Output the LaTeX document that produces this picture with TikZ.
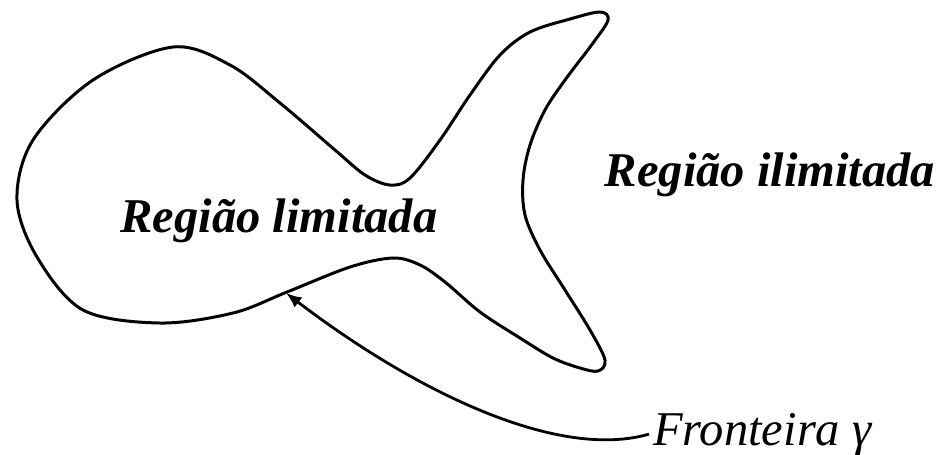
\documentclass[tikz,border=0pt]{standalone}
\usepackage{fontspec}
\setmainfont{Liberation Serif}
\usetikzlibrary{arrows.meta,positioning}

\begin{document}
\begin{tikzpicture}[x=0.01cm, y=-0.01cm, font=\fontsize{13.8}{16}\selectfont]
        \useasboundingbox (0,0) rectangle (943,454);
        \draw[line width=0.85pt, line join=round] plot[smooth cycle, tension=0.55] coordinates {
          (173,47) (230,65) (280,103) (335,150) (365,175) (390,185) (410,178)
          (440,140) (470,95) (500,55) (530,32) (570,19) (600,12) (608,20)
          (593,43) (565,80) (545,110) (530,145) (523,180) (525,215) (540,250)
          (565,290) (590,330) (605,360) (598,371) (580,368) (553,358) (520,338)
          (480,312) (445,282) (420,265) (393,258) (350,267) (287,292) (233,313)
          (160,323) (83,310) (37,257) (17,200) (33,140) (93,80)};
        \coordinate (tip) at (286,293);
        \node[font=\fontsize{13.8}{16}\selectfont\bfseries\itshape, anchor=base] (inner) at (279,232) {Região limitada};
        \node[font=\fontsize{13.8}{16}\selectfont\bfseries\itshape, anchor=base] (outer) at (770,186) {Região ilimitada};
        \node[font=\fontsize{13.8}{16}\selectfont\itshape, anchor=base west, inner sep=1pt] (front) at (649,445) {Fronteira γ};
        \draw[line width=0.8pt, -{Latex[length=4.4pt, width=3.6pt]}] (front.west) .. controls (560,460) and (420,395) .. (tip);
      \end{tikzpicture}
\end{document}
